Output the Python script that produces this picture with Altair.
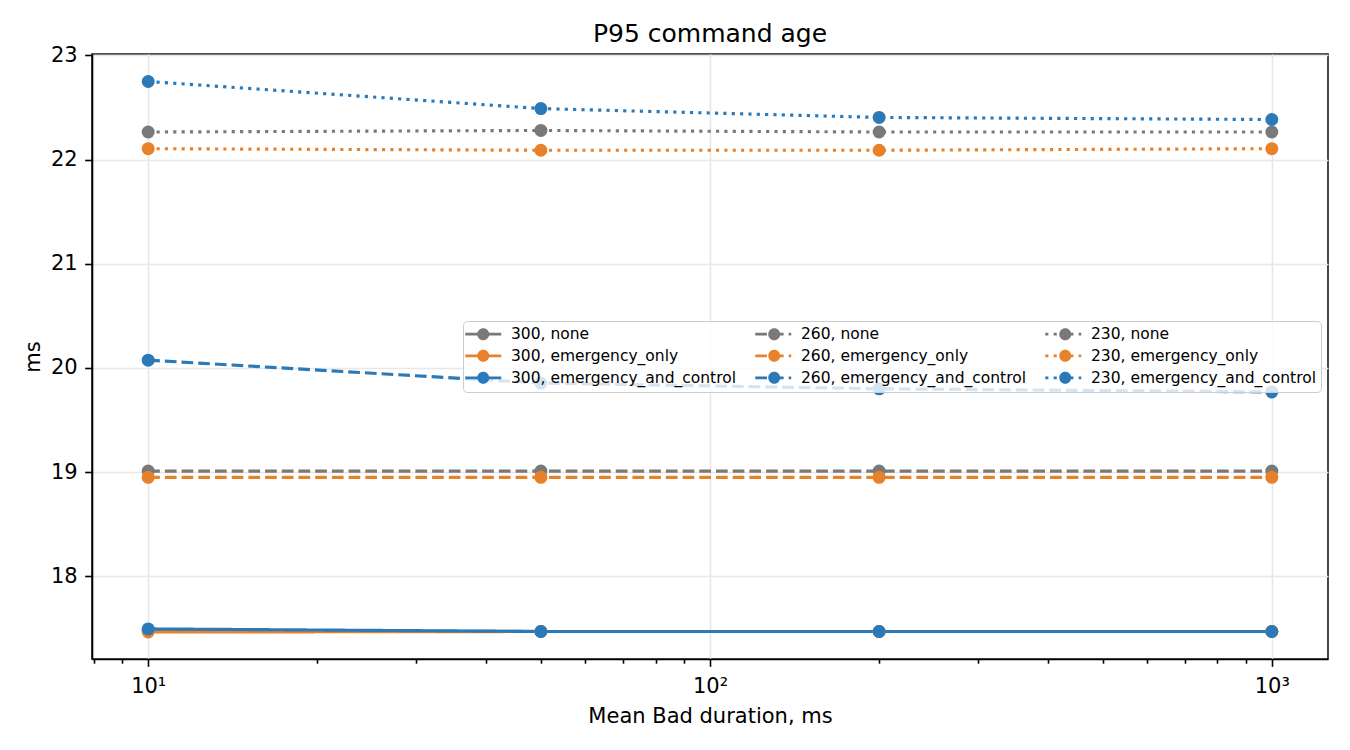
import altair as alt
import pandas as pd

# x positions (Mean Bad duration, ms)
durations = [10, 50, 200, 1000]

thresholds = ["300", "260", "230"]
modes = ["none", "emergency_only", "emergency_and_control"]

# P95 command age (ms) per series
s300_none = [17.48, 17.47, 17.47, 17.47]
s300_emergency_only = [17.465, 17.47, 17.47, 17.47]
s300_emergency_and_control = [17.495, 17.47, 17.47, 17.47]
s260_none = [19.01, 19.01, 19.01, 19.01]
s260_emergency_only = [18.95, 18.95, 18.95, 18.95]
s260_emergency_and_control = [20.075, 19.855, 19.80, 19.77]
s230_none = [22.265, 22.28, 22.265, 22.265]
s230_emergency_only = [22.105, 22.09, 22.09, 22.105]
s230_emergency_and_control = [22.75, 22.49, 22.405, 22.385]

series_values = {
    ("300", "none"): s300_none,
    ("300", "emergency_only"): s300_emergency_only,
    ("300", "emergency_and_control"): s300_emergency_and_control,
    ("260", "none"): s260_none,
    ("260", "emergency_only"): s260_emergency_only,
    ("260", "emergency_and_control"): s260_emergency_and_control,
    ("230", "none"): s230_none,
    ("230", "emergency_only"): s230_emergency_only,
    ("230", "emergency_and_control"): s230_emergency_and_control,
}

mode_colors = {"none": "#797979", "emergency_only": "#e8822a", "emergency_and_control": "#2a79b8"}
threshold_dash = {"300": [1, 0], "260": [11.7, 5.0], "230": [3.15, 5.2]}

rows = []
order = 0
for t in thresholds:
    for m in modes:
        label = f"{t}, {m}"
        for x, v in zip(durations, series_values[(t, m)]):
            # series_p carries a trailing space so the marker legend stays separate
            rows.append({"x": x, "y": v, "series": label, "series_p": label + " ", "order": order})
        order += 1
df = pd.DataFrame(rows)

legend_domain = [f"{t}, {m}" for t in thresholds for m in modes]
legend_domain_p = [s + " " for s in legend_domain]
color_range = [mode_colors[s.split(", ")[1]] for s in legend_domain]
dash_range = [threshold_dash[s.split(", ")[0]] for s in legend_domain]

minor_major = [8, 9, 10, 20, 30, 40, 50, 60, 70, 80, 90, 100,
               200, 300, 400, 500, 600, 700, 800, 900, 1000]
major_test = "datum.value == 10 || datum.value == 100 || datum.value == 1000"

x_enc = alt.X(
    "x:Q",
    scale=alt.Scale(type="log", domain=[7.943, 1258.9], nice=False),
    axis=alt.Axis(
        values=minor_major,
        labelExpr="datum.value == 10 ? '10¹' : datum.value == 100 ? '10²' : datum.value == 1000 ? '10³' : ''",
        tickSize={"condition": {"test": major_test, "value": 7.3}, "value": 4.2},
        gridOpacity={"condition": {"test": major_test, "value": 1}, "value": 0},
        labelPadding=9,
        titlePadding=9,
    ),
    title="Mean Bad duration, ms",
)
y_enc = alt.Y(
    "y:Q",
    scale=alt.Scale(domain=[17.206, 23.014], nice=False, zero=False),
    axis=alt.Axis(values=[18, 19, 20, 21, 22, 23], tickSize=7.3, labelPadding=7.5, titlePadding=7),
    title="ms",
)

common_legend = dict(
    title=None,
    orient="none",
    legendX=371,
    legendY=267,
    columns=3,
    labelFontSize=15.5,
    labelFont="DejaVu Sans",
    labelColor="#000000",
    labelLimit=400,
    symbolSize=144,
    symbolStrokeWidth=2.75,
    symbolOffset=7.5,
    labelOffset=20,
    rowPadding=5,
    padding=5,
)

# line legend (drawn first): frame + dashed line symbols + labels
line_legend = alt.Legend(
    symbolType="M-3,0H3",
    fillColor="rgba(255,255,255,0.8)",
    strokeColor="#cccccc",
    cornerRadius=4,
    columnPadding=13,
    **common_legend,
)
# marker legend (drawn on top): circles only, no label text; wider column gap keeps columns aligned
point_legend = alt.Legend(
    symbolType="M-3,0H3M-1,0A1,1,0,1,1,1,0A1,1,0,1,1,-1,0Z",
    labelExpr="''",
    columnPadding=245,
    **common_legend,
)

stroke_enc = alt.Stroke("series:N", scale=alt.Scale(domain=legend_domain, range=color_range), legend=line_legend)
dash_enc = alt.StrokeDash("series:N", scale=alt.Scale(domain=legend_domain, range=dash_range), legend=line_legend)
fill_enc = alt.Fill("series_p:N", scale=alt.Scale(domain=legend_domain_p, range=color_range), legend=point_legend)

lines = alt.Chart(df).mark_line(strokeWidth=3.15, strokeCap="butt").encode(
    x=x_enc, y=y_enc, stroke=stroke_enc, strokeDash=dash_enc, detail="series:N", order="order:Q"
)
points = alt.Chart(df).mark_point(filled=True, size=169, opacity=1, strokeWidth=0).encode(
    x=x_enc, y=y_enc, fill=fill_enc, order="order:Q"
)

chart = alt.layer(lines, points).properties(
    width=1236,
    height=605,
    title=alt.TitleParams("P95 command age", fontSize=25, font="DejaVu Sans", fontWeight="normal",
                          color="#000000", anchor="middle", offset=-3),
    autosize=alt.AutoSizeParams(type="none"),
    padding={"left": 84, "top": 46, "right": 14, "bottom": 80},
    background="white",
).configure_view(
    stroke="#1a1a1a", strokeWidth=1.6
).configure_axis(
    labelFont="DejaVu Sans", titleFont="DejaVu Sans", labelFontSize=21, titleFontSize=21,
    titleFontWeight="normal", labelColor="#000000", titleColor="#000000",
    tickColor="#000000", tickWidth=1.6, domainColor="#000000", domainWidth=1.6,
    gridColor="#e8e8e8", gridWidth=1.6,
)

chart.save("out.html", embed_options={"renderer": "svg", "actions": False})
